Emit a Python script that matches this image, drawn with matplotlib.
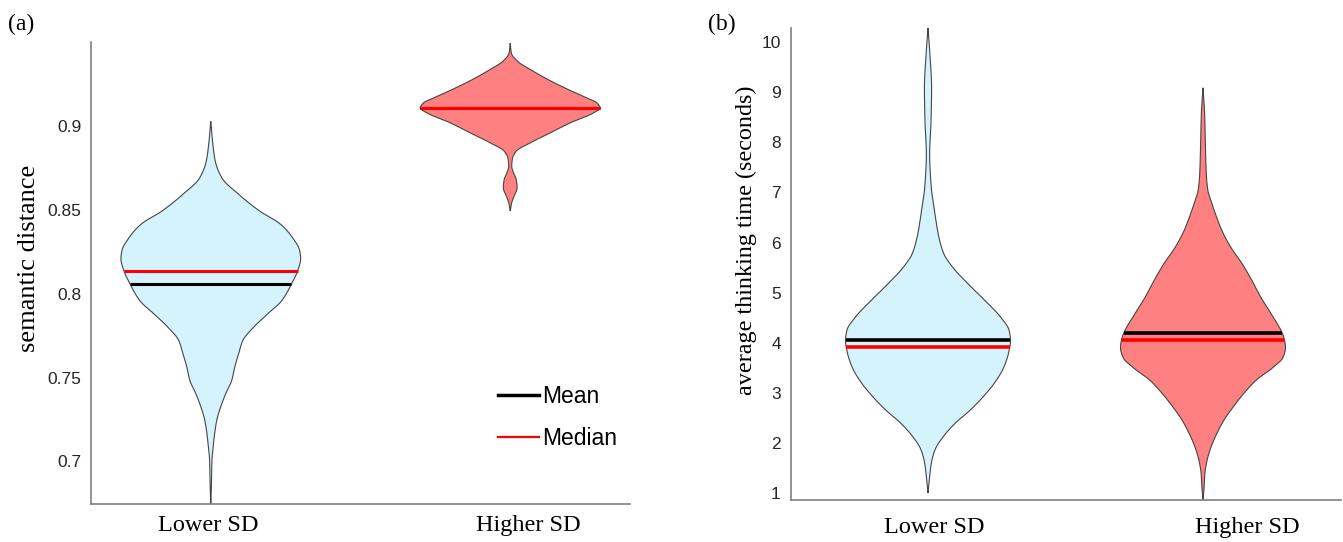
import numpy as np
import matplotlib
matplotlib.use("Agg")
import matplotlib.pyplot as plt
import matplotlib.transforms as mtransforms
from matplotlib.lines import Line2D

# ---------------- data ----------------
categories = ["Lower SD", "Higher SD"]

# Panel (a): semantic distance -- violin outline (value, half-width)
sem_low_y = [0.6745, 0.6848, 0.7007, 0.7086, 0.7166, 0.7245, 0.7324, 0.7404, 0.7483,
             0.7562, 0.7642, 0.7721, 0.7800, 0.7880, 0.7959, 0.8060, 0.8137, 0.8208,
             0.8256, 0.8335, 0.8415, 0.8494, 0.8594, 0.8692, 0.8792, 0.8893, 0.9030]
sem_low_w = [0.000, 0.002, 0.004, 0.008, 0.013, 0.020, 0.033, 0.050, 0.070,
             0.080, 0.093, 0.107, 0.143, 0.190, 0.237, 0.270, 0.290, 0.300,
             0.297, 0.273, 0.233, 0.163, 0.093, 0.037, 0.015, 0.007, 0.000]
sem_high_y = [0.8494, 0.8544, 0.8583, 0.8633, 0.8683, 0.8722, 0.8762, 0.8804, 0.8851,
              0.8901, 0.8960, 0.9020, 0.9079, 0.9109, 0.9139, 0.9168, 0.9220, 0.9280,
              0.9339, 0.9387, 0.9436, 0.9496]
sem_high_w = [0.000, 0.005, 0.013, 0.023, 0.020, 0.011, 0.005, 0.007, 0.020,
              0.067, 0.133, 0.200, 0.277, 0.300, 0.290, 0.257, 0.193, 0.125,
              0.067, 0.025, 0.004, 0.000]
sem_mean = [0.8058, 0.9109]
sem_median = [0.8137, 0.9109]
sem_ticks = [0.7, 0.75, 0.8, 0.85, 0.9]
sem_ticklabels = ["0.7", "0.75", "0.8", "0.85", "0.9"]

# Panel (b): average thinking time -- violin outline (value, half-width)
time_low_y = [1.0, 1.325, 1.591, 1.856, 2.121, 2.388, 2.653, 2.918, 3.184, 3.515,
              3.847, 4.04, 4.246, 4.505, 4.843, 5.18, 5.50, 5.77, 6.098, 6.436,
              6.695, 7.093, 7.77, 8.427, 9.09, 9.755, 10.285]
time_low_w = [0.000, 0.006, 0.012, 0.025, 0.055, 0.098, 0.153, 0.200, 0.240, 0.276,
              0.295, 0.300, 0.295, 0.265, 0.207, 0.145, 0.091, 0.058, 0.040, 0.029,
              0.022, 0.012, 0.006, 0.011, 0.013, 0.007, 0.000]
time_high_y = [0.861, 1.119, 1.398, 1.657, 1.916, 2.195, 2.454, 2.712, 2.991, 3.25,
               3.509, 3.708, 3.907, 4.086, 4.206, 4.584, 4.903, 5.241, 5.58, 5.898,
               6.237, 6.575, 6.834, 7.033, 7.372, 7.89, 8.567, 9.09]
time_high_w = [0.000, 0.004, 0.007, 0.015, 0.029, 0.051, 0.076, 0.109, 0.149, 0.193,
               0.255, 0.291, 0.300, 0.295, 0.287, 0.247, 0.211, 0.178, 0.142, 0.102,
               0.069, 0.045, 0.029, 0.018, 0.012, 0.009, 0.006, 0.000]
time_mean = [4.05, 4.20]
time_median = [3.91, 4.06]
time_ticks = [1, 2, 3, 4, 5, 6, 7, 8, 9, 10]

# ---------------- style ----------------
BLUE = "#D5F3FD"
RED = "#FF8080"
EDGE = "#454545"
SPINE = "#808080"
TICKC = "#262626"
SANS = ["Liberation Sans", "DejaVu Sans"]
SERIF = ["Liberation Serif", "DejaVu Serif"]

fig = plt.figure(figsize=(13.43, 5.42), dpi=100)
W, H = 1343.0, 542.0


def add_axes(l, r, b, t):
    return fig.add_axes([l / W, 1 - b / H, (r - l) / W, (b - t) / H])


def pchip(x, y, xn):
    """Monotone piecewise cubic Hermite interpolation (Fritsch-Carlson)."""
    x = np.asarray(x, float)
    y = np.asarray(y, float)
    h = np.diff(x)
    d = np.diff(y) / h
    m = np.zeros_like(y)
    for k in range(1, len(x) - 1):
        if d[k - 1] * d[k] > 0:
            w1 = 2 * h[k] + h[k - 1]
            w2 = h[k] + 2 * h[k - 1]
            m[k] = (w1 + w2) / (w1 / d[k - 1] + w2 / d[k])
    m[0] = d[0]
    m[-1] = d[-1]
    idx = np.clip(np.searchsorted(x, xn) - 1, 0, len(x) - 2)
    t = (xn - x[idx]) / h[idx]
    h00 = 2 * t**3 - 3 * t**2 + 1
    h10 = t**3 - 2 * t**2 + t
    h01 = -2 * t**3 + 3 * t**2
    h11 = t**3 - t**2
    return h00 * y[idx] + h10 * h[idx] * m[idx] + h01 * y[idx + 1] + h11 * h[idx] * m[idx + 1]


def violin(ax, pos, ys, ws, color, mean, median, lw):
    ys = np.asarray(ys, float)
    ws = np.asarray(ws, float)
    yf = np.linspace(ys[0], ys[-1], 600)
    wf = np.clip(pchip(ys, ws, yf), 0, None)
    xs = np.concatenate([pos - wf, (pos + wf)[::-1]])
    yy = np.concatenate([yf, yf[::-1]])
    ax.fill(xs, yy, facecolor=color, edgecolor=EDGE, linewidth=0.8, zorder=2)
    hm = np.interp(mean, yf, wf)
    ax.plot([pos - hm, pos + hm], [mean, mean], color="black", lw=lw,
            solid_capstyle="butt", zorder=3)
    hd = np.interp(median, yf, wf)
    ax.plot([pos - hd, pos + hd], [median, median], color="red", lw=lw,
            solid_capstyle="butt", zorder=4)


def style_axes(ax):
    for s in ["top", "right"]:
        ax.spines[s].set_visible(False)
    for s in ["left", "bottom"]:
        ax.spines[s].set_color(SPINE)
        ax.spines[s].set_linewidth(1.2)
    ax.tick_params(axis="both", length=0)
    ax.tick_params(axis="y", labelsize=12.5, labelcolor=TICKC, pad=7)
    for lab in ax.get_yticklabels():
        lab.set_fontfamily(SANS)


def shift_xlabels(ax, offsets_px, pad):
    ax.set_xticks([1, 2])
    ax.set_xticklabels(categories, fontfamily=SERIF, fontsize=17.5, color="black")
    ax.tick_params(axis="x", pad=pad)
    for lab, dx in zip(ax.get_xticklabels(), offsets_px):
        lab.set_transform(lab.get_transform() +
                          mtransforms.ScaledTranslation(dx / 100.0, 0, fig.dpi_scale_trans))


# ---------------- panel (a) ----------------
axa = add_axes(91, 630, 504, 41.5)
violin(axa, 1, sem_low_y, sem_low_w, BLUE, sem_mean[0], sem_median[0], 2.2)
violin(axa, 2, sem_high_y, sem_high_w, RED, sem_mean[1], sem_median[1], 2.2)
axa.set_xlim(0.6, 2.4)
axa.set_ylim(0.6745, 0.9506)
axa.set_yticks(sem_ticks)
axa.set_yticklabels(sem_ticklabels)
style_axes(axa)
shift_xlabels(axa, [-3, 18], 8)
axa.set_ylabel("semantic distance", fontfamily=SERIF, fontsize=19)
axa.yaxis.set_label_coords((40 - 91) / 539.0, (504 - 258) / 462.5)

handles = [Line2D([], [], color="black", lw=2.5), Line2D([], [], color="red", lw=1.6)]
leg = axa.legend(handles, ["Mean", "Median"], loc="center left",
                 bbox_to_anchor=((498 - 91) / 539.0, (504 - 417.5) / 462.5),
                 frameon=False, prop={"family": SANS, "size": 16.5},
                 handlelength=1.8, handletextpad=0.12, labelspacing=0.8,
                 borderpad=0, borderaxespad=0)

fig.text(8 / W, 1 - 24 / H, "(a)", fontfamily=SERIF, fontsize=17, va="center", ha="left")

# ---------------- panel (b) ----------------
axb = add_axes(790.5, 1340.5, 500, 27.7)
violin(axb, 1, time_low_y, time_low_w, BLUE, time_mean[0], time_median[0], 2.6)
violin(axb, 2, time_high_y, time_high_w, RED, time_mean[1], time_median[1], 2.6)
axb.set_xlim(0.5, 2.5)
axb.set_ylim(0.86, 10.29)
axb.set_yticks(time_ticks)
axb.set_yticklabels([str(t) for t in time_ticks])
style_axes(axb)
shift_xlabels(axb, [6, 44], 12)
axb.set_ylabel("average thinking time (seconds)", fontfamily=SERIF, fontsize=17.4)
axb.yaxis.set_label_coords((757 - 790.5) / 550.0, (500 - 240) / 472.3)

fig.text(708 / W, 1 - 24 / H, "(b)", fontfamily=SERIF, fontsize=17, va="center", ha="left")

fig.savefig("out.png", dpi=100)
